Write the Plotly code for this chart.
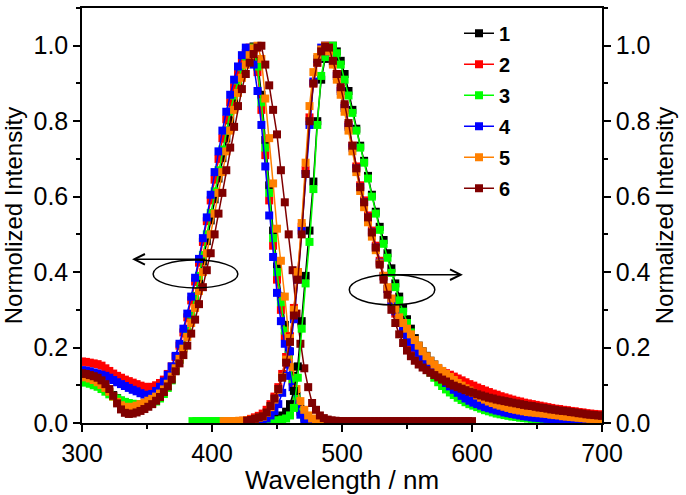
import plotly.graph_objects as go

# ---------------- data ----------------
series_names = ["1", "2", "3", "4", "5", "6"]
series_colors = ["#000000", "#FF0000", "#00FF00", "#0000FF", "#FF8000", "#800000"]

# Excitation spectra (left axis), wavelengths 300..498 nm every 3 nm
ex_start = 300
ex_1 = [0.125, 0.122, 0.118, 0.113, 0.107, 0.100, 0.092, 0.083, 0.074, 0.066,
        0.059, 0.054, 0.050, 0.048, 0.047, 0.048, 0.050, 0.053, 0.058, 0.064,
        0.072, 0.083, 0.098, 0.117, 0.140, 0.168, 0.200, 0.237, 0.279, 0.325,
        0.375, 0.428, 0.482, 0.537, 0.593, 0.648, 0.702, 0.754, 0.802, 0.848,
        0.890, 0.928, 0.960, 0.985, 0.998, 0.960, 0.870, 0.750, 0.630, 0.510,
        0.415, 0.335, 0.260, 0.190, 0.125, 0.072, 0.037, 0.017, 0.009, 0.006,
        0.005, 0.005, 0.004, 0.004, 0.004, 0.004, 0.004]
ex_2 = [0.163, 0.162, 0.160, 0.158, 0.156, 0.152, 0.145, 0.138, 0.131, 0.125,
        0.120, 0.115, 0.111, 0.107, 0.103, 0.099, 0.096, 0.095, 0.096, 0.100,
        0.106, 0.115, 0.130, 0.150, 0.175, 0.205, 0.240, 0.280, 0.325, 0.375,
        0.425, 0.480, 0.535, 0.590, 0.645, 0.700, 0.755, 0.805, 0.850, 0.890,
        0.925, 0.955, 0.980, 0.995, 0.990, 0.930, 0.830, 0.710, 0.590, 0.470,
        0.380, 0.300, 0.230, 0.170, 0.110, 0.060, 0.030, 0.014, 0.008, 0.005,
        0.004, 0.004, 0.004, 0.004, 0.004, 0.004, 0.004]
ex_3 = [0.110, 0.107, 0.104, 0.100, 0.096, 0.090, 0.083, 0.076, 0.070, 0.065,
        0.060, 0.056, 0.053, 0.051, 0.050, 0.050, 0.050, 0.050, 0.052, 0.057,
        0.065, 0.077, 0.093, 0.113, 0.138, 0.168, 0.203, 0.243, 0.288, 0.337,
        0.390, 0.445, 0.500, 0.557, 0.614, 0.670, 0.725, 0.775, 0.825, 0.868,
        0.908, 0.943, 0.972, 0.992, 0.995, 0.945, 0.850, 0.730, 0.610, 0.490,
        0.400, 0.320, 0.245, 0.180, 0.115, 0.065, 0.033, 0.015, 0.008, 0.005,
        0.004, 0.004, 0.004, 0.004, 0.004, 0.004, 0.004]
ex_4 = [0.140, 0.139, 0.137, 0.134, 0.131, 0.128, 0.125, 0.120, 0.114, 0.108,
        0.103, 0.098, 0.093, 0.088, 0.084, 0.079, 0.075, 0.074, 0.077, 0.085,
        0.096, 0.110, 0.128, 0.150, 0.178, 0.210, 0.250, 0.290, 0.335, 0.385,
        0.435, 0.490, 0.545, 0.605, 0.665, 0.720, 0.775, 0.825, 0.870, 0.910,
        0.945, 0.975, 0.995, 0.990, 0.950, 0.880, 0.790, 0.680, 0.550, 0.440,
        0.345, 0.270, 0.210, 0.155, 0.095, 0.050, 0.022, 0.010, 0.006, 0.004,
        0.004, 0.004, 0.004, 0.004, 0.004, 0.004, 0.004]
ex_5 = [0.123, 0.121, 0.118, 0.114, 0.108, 0.101, 0.093, 0.083, 0.070, 0.056,
        0.047, 0.043, 0.042, 0.043, 0.046, 0.050, 0.054, 0.059, 0.064, 0.070,
        0.078, 0.089, 0.104, 0.123, 0.145, 0.170, 0.197, 0.228, 0.265, 0.305,
        0.350, 0.400, 0.450, 0.500, 0.555, 0.610, 0.665, 0.720, 0.775, 0.830,
        0.875, 0.915, 0.950, 0.975, 0.993, 1.000, 0.965, 0.860, 0.755, 0.635,
        0.515, 0.430, 0.335, 0.230, 0.148, 0.090, 0.058, 0.035, 0.020, 0.012,
        0.008, 0.006, 0.005, 0.005, 0.004, 0.004, 0.004]
ex_6 = [0.132, 0.130, 0.127, 0.124, 0.120, 0.113, 0.103, 0.090, 0.072, 0.052,
        0.036, 0.027, 0.024, 0.025, 0.028, 0.032, 0.037, 0.043, 0.050, 0.059,
        0.069, 0.082, 0.097, 0.115, 0.137, 0.158, 0.180, 0.205, 0.237, 0.274,
        0.315, 0.360, 0.405, 0.450, 0.500, 0.555, 0.610, 0.670, 0.730, 0.785,
        0.840, 0.885, 0.925, 0.955, 0.978, 0.995, 1.000, 0.950, 0.895, 0.830,
        0.765, 0.670, 0.585, 0.500, 0.405, 0.290, 0.210, 0.145, 0.095, 0.053,
        0.035, 0.020, 0.013, 0.009, 0.007, 0.006, 0.005,
        # tail 501..600 nm
        0.005, 0.005, 0.005, 0.005, 0.005, 0.005, 0.005, 0.005, 0.005, 0.005,
        0.005, 0.005, 0.005, 0.005, 0.005, 0.005, 0.005, 0.005, 0.005, 0.005,
        0.005, 0.005, 0.005, 0.005, 0.005, 0.005, 0.005, 0.005, 0.005, 0.005,
        0.005, 0.005, 0.005, 0.005]

# Emission spectra (right axis), every 3 nm from a per-series start to 700 nm
em_starts = [418, 418, 385, 418, 409, 427]
em_1 = [0.004, 0.004, 0.004, 0.004, 0.004, 0.004, 0.004,
        0.004, 0.005, 0.007, 0.010, 0.014, 0.020, 0.030, 0.050, 0.085, 0.150,
        0.270, 0.390, 0.510, 0.640, 0.800, 0.910, 0.965, 0.990, 1.000, 0.985,
        0.960, 0.925, 0.880, 0.830, 0.780, 0.735, 0.695, 0.655, 0.605, 0.560,
        0.520, 0.485, 0.450, 0.410, 0.370, 0.335, 0.305, 0.275, 0.250, 0.225,
        0.205, 0.190, 0.178, 0.165, 0.155, 0.145, 0.137, 0.129, 0.122, 0.115,
        0.109, 0.104, 0.099, 0.094, 0.090, 0.086, 0.082, 0.078, 0.075, 0.071,
        0.068, 0.065, 0.062, 0.060, 0.057, 0.054, 0.052, 0.049, 0.047, 0.045,
        0.042, 0.040, 0.038, 0.036, 0.034, 0.032, 0.030, 0.028, 0.026, 0.025,
        0.023, 0.021, 0.020, 0.018, 0.017, 0.015, 0.014, 0.013]
em_2 = [0.004, 0.005, 0.006, 0.008, 0.011, 0.015, 0.019,
        0.025, 0.035, 0.050, 0.070, 0.095, 0.130, 0.175, 0.230, 0.305, 0.400,
        0.520, 0.670, 0.810, 0.900, 0.955, 0.985, 1.000, 0.990, 0.960, 0.925,
        0.885, 0.840, 0.790, 0.735, 0.680, 0.630, 0.590, 0.550, 0.510, 0.470,
        0.430, 0.390, 0.355, 0.320, 0.290, 0.265, 0.242, 0.222, 0.205, 0.190,
        0.178, 0.168, 0.160, 0.152, 0.146, 0.142, 0.137, 0.132, 0.128, 0.123,
        0.118, 0.113, 0.108, 0.103, 0.099, 0.094, 0.090, 0.086, 0.082, 0.078,
        0.075, 0.071, 0.068, 0.065, 0.062, 0.059, 0.057, 0.054, 0.052, 0.050,
        0.048, 0.046, 0.044, 0.042, 0.040, 0.038, 0.037, 0.035, 0.034, 0.032,
        0.031, 0.029, 0.028, 0.026, 0.025, 0.024, 0.023, 0.022]
em_3 = [0.005, 0.005, 0.005, 0.005, 0.005, 0.005, 0.005, 0.005, 0.005,
        0.005, 0.005, 0.005, 0.005, 0.005, 0.005, 0.005, 0.005, 0.005,
        0.004, 0.004, 0.005, 0.006, 0.007, 0.009, 0.012, 0.020, 0.040, 0.120,
        0.250, 0.370, 0.480, 0.620, 0.790, 0.920, 0.970, 0.995, 1.000, 0.980,
        0.950, 0.910, 0.868, 0.822, 0.775, 0.730, 0.690, 0.648, 0.600, 0.555,
        0.512, 0.475, 0.438, 0.398, 0.360, 0.325, 0.295, 0.265, 0.240, 0.215,
        0.190, 0.168, 0.150, 0.134, 0.120, 0.108, 0.098, 0.089, 0.081, 0.074,
        0.067, 0.061, 0.055, 0.050, 0.046, 0.042, 0.038, 0.034, 0.031, 0.028,
        0.025, 0.023, 0.021, 0.019, 0.017, 0.016, 0.014, 0.013, 0.012, 0.011,
        0.010, 0.009, 0.008, 0.008, 0.007, 0.006, 0.006, 0.005, 0.005, 0.004,
        0.004, 0.004, 0.003, 0.003, 0.003, 0.003, 0.003, 0.003]
em_4 = [0.003, 0.003, 0.004, 0.004, 0.005, 0.006, 0.007,
        0.008, 0.012, 0.020, 0.032, 0.050, 0.080, 0.125, 0.190, 0.275, 0.380,
        0.510, 0.660, 0.790, 0.905, 0.965, 0.995, 1.000, 0.985, 0.955, 0.920,
        0.880, 0.835, 0.785, 0.730, 0.675, 0.625, 0.585, 0.545, 0.505, 0.465,
        0.425, 0.388, 0.355, 0.325, 0.296, 0.270, 0.250, 0.232, 0.215, 0.200,
        0.186, 0.173, 0.160, 0.148, 0.137, 0.126, 0.116, 0.106, 0.097, 0.088,
        0.080, 0.072, 0.065, 0.059, 0.054, 0.050, 0.046, 0.042, 0.039, 0.036,
        0.033, 0.031, 0.028, 0.026, 0.024, 0.022, 0.020, 0.018, 0.017, 0.015,
        0.014, 0.013, 0.012, 0.011, 0.010, 0.009, 0.008, 0.007, 0.006, 0.005,
        0.005, 0.004, 0.004, 0.003, 0.003, 0.003, 0.003, 0.003]
em_5 = [0.005, 0.005, 0.005, 0.005, 0.006, 0.006, 0.007, 0.009, 0.011, 0.014,
        0.017, 0.027, 0.042, 0.062, 0.088, 0.122, 0.168, 0.225, 0.300, 0.400,
        0.530, 0.690, 0.840, 0.930, 0.970, 0.990, 1.000, 0.985, 0.950, 0.910,
        0.870, 0.825, 0.775, 0.720, 0.665, 0.615, 0.572, 0.532, 0.494, 0.458,
        0.423, 0.390, 0.360, 0.330, 0.303, 0.280, 0.265, 0.250, 0.235, 0.220,
        0.205, 0.190, 0.177, 0.165, 0.155, 0.146, 0.138, 0.130, 0.122, 0.114,
        0.106, 0.099, 0.092, 0.086, 0.080, 0.073, 0.067, 0.062, 0.057, 0.053,
        0.049, 0.046, 0.043, 0.040, 0.037, 0.035, 0.033, 0.031, 0.029, 0.028,
        0.027, 0.026, 0.025, 0.024, 0.022, 0.021, 0.020, 0.018, 0.017, 0.016,
        0.015, 0.014, 0.013, 0.012, 0.011, 0.011, 0.010, 0.009]
em_6 = [0.006, 0.008, 0.011, 0.015,
        0.018, 0.028, 0.045, 0.065, 0.090, 0.120, 0.160, 0.215, 0.285, 0.380,
        0.500, 0.660, 0.800, 0.900, 0.955, 0.985, 0.998, 0.995, 0.960, 0.925,
        0.890, 0.845, 0.795, 0.735, 0.675, 0.625, 0.585, 0.545, 0.505, 0.465,
        0.420, 0.380, 0.340, 0.300, 0.265, 0.235, 0.212, 0.192, 0.177, 0.165,
        0.155, 0.147, 0.140, 0.133, 0.127, 0.121, 0.115, 0.110, 0.104, 0.099,
        0.095, 0.091, 0.087, 0.083, 0.080, 0.076, 0.073, 0.070, 0.067, 0.065,
        0.062, 0.060, 0.058, 0.056, 0.054, 0.052, 0.050, 0.048, 0.046, 0.045,
        0.043, 0.041, 0.040, 0.038, 0.036, 0.035, 0.033, 0.032, 0.031, 0.029,
        0.028, 0.026, 0.025, 0.023, 0.022, 0.021, 0.020, 0.019]

ex_all = [ex_1, ex_2, ex_3, ex_4, ex_5, ex_6]
em_all = [em_1, em_2, em_3, em_4, em_5, em_6]
step_nm = 3

x_tick_vals = [300, 400, 500, 600, 700]
y_tick_vals = [0.0, 0.2, 0.4, 0.6, 0.8, 1.0]

FONT = "Arial, 'Liberation Sans', sans-serif"

fig = go.Figure()
for i in range(6):
    ex = ex_all[i]
    em = em_all[i]
    ex_x = list(range(ex_start, ex_start + step_nm * len(ex), step_nm))
    em_x = list(range(em_starts[i], em_starts[i] + step_nm * len(em), step_nm))
    style = dict(mode="lines+markers",
                 line=dict(color=series_colors[i], width=1.5),
                 marker=dict(symbol="square", size=8, color=series_colors[i]),
                 legendgroup="g" + series_names[i])
    fig.add_trace(go.Scatter(x=ex_x, y=ex, name="<b>" + series_names[i] + "</b>",
                             showlegend=True, yaxis="y", **style))
    fig.add_trace(go.Scatter(x=em_x, y=em, name=series_names[i],
                             showlegend=False, yaxis="y2", **style))

axis_common = dict(ticks="outside", ticklen=7, tickwidth=1.5, tickcolor="black",
                   showline=True, linewidth=1.5, linecolor="black",
                   showgrid=False, zeroline=False,
                   tickfont=dict(family=FONT, size=25, color="black"))

fig.update_layout(
    width=686, height=495,
    margin=dict(l=82, r=84, t=6, b=71),
    paper_bgcolor="white", plot_bgcolor="white",
    font=dict(family=FONT, color="black"),
    xaxis=dict(range=[300, 700], tickvals=x_tick_vals, mirror=True,
               minor=dict(ticks="outside", ticklen=4, tickwidth=1.5, tickcolor="black",
                          dtick=50, tick0=300, showgrid=False),
               title=dict(text="Wavelength / nm", font=dict(family=FONT, size=26), standoff=4),
               **axis_common),
    yaxis=dict(range=[0, 1.1], tickvals=y_tick_vals, tickformat=".1f",
               minor=dict(ticks="outside", ticklen=4, tickwidth=1.5, tickcolor="black",
                          dtick=0.1, tick0=0, showgrid=False),
               title=dict(text="Normolized Intensity", font=dict(family=FONT, size=24), standoff=4),
               **axis_common),
    yaxis2=dict(range=[0, 1.1], tickvals=y_tick_vals, tickformat=".1f",
                overlaying="y", side="right",
                minor=dict(ticks="outside", ticklen=4, tickwidth=1.5, tickcolor="black",
                           dtick=0.1, tick0=0, showgrid=False),
                title=dict(text="Normalized Intensity", font=dict(family=FONT, size=24), standoff=4),
                **axis_common),
    legend=dict(x=0.725, y=0.986, xanchor="left", yanchor="top",
                bgcolor="rgba(0,0,0,0)", tracegroupgap=2,
                font=dict(family=FONT, size=20, color="black")),
    showlegend=True,
)

# ellipses and arrows marking which axis each band belongs to
ellipse_left = dict(x0=354.7, x1=419.9, y0=0.358, y1=0.432)
ellipse_right = dict(x0=505.6, x1=571.4, y0=0.313, y1=0.393)
for e in (ellipse_left, ellipse_right):
    fig.add_shape(type="circle", xref="x", yref="y", line=dict(color="black", width=1.5),
                  **e)

arrows = [dict(tail=(396, 0.434), head=(338.5, 0.434)),
          dict(tail=(529, 0.393), head=(593, 0.393))]
for a in arrows:
    fig.add_annotation(x=a["head"][0], y=a["head"][1], ax=a["tail"][0], ay=a["tail"][1],
                       xref="x", yref="y", axref="x", ayref="y", text="",
                       showarrow=True, arrowhead=5, arrowsize=1.6, arrowwidth=1.3,
                       arrowcolor="black")

fig.write_html("out.html", config={"displayModeBar": False},
               post_script="document.body.style.margin='0px';document.body.style.overflow='hidden';")
